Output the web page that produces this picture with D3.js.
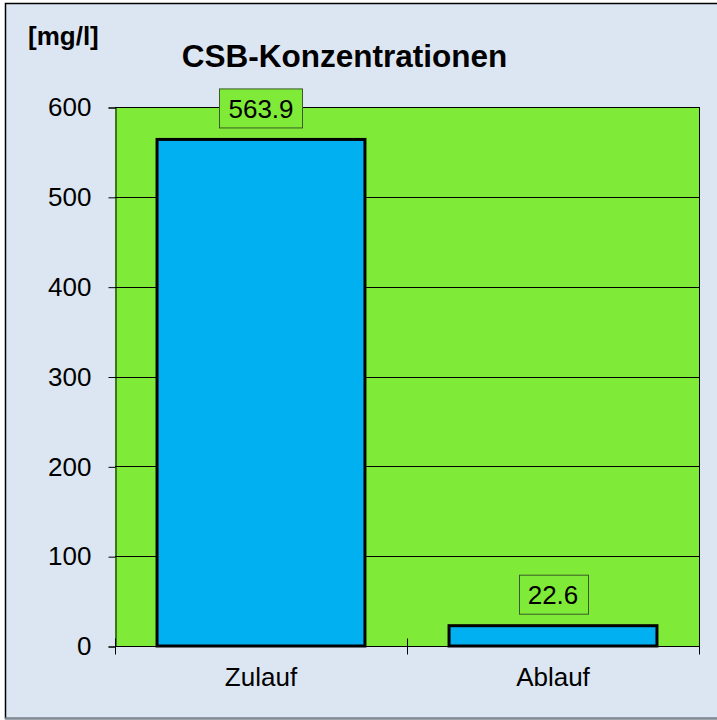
<!DOCTYPE html>
<html>
<head>
<meta charset="utf-8">
<script src="https://cdn.jsdelivr.net/npm/d3@7"></script>
<style>
  body { margin: 0; background: #fff; }
  text { font-family: "Liberation Sans", Arial, sans-serif; fill: #000; }
</style>
</head>
<body>
<div id="chart"></div>
<script>
// chart data
const categories = ['Zulauf', 'Ablauf'];
const values = [563.9, 22.6];
const yTicks = [0, 100, 200, 300, 400, 500, 600];
const unitLabel = '[mg/l]';
const titleText = 'CSB-Konzentrationen';

const width = 717, height = 720;
const plot = { left: 115, right: 699, top: 107, bottom: 646 };

const svg = d3.select('#chart').append('svg')
    .attr('width', width).attr('height', height);

// chart area background + frame
svg.append('rect')
    .attr('x', 5.5).attr('y', 3.5)
    .attr('width', width + 10).attr('height', height - 5)
    .attr('fill', '#dce6f2')
    .attr('stroke', '#000').attr('stroke-width', 1.5);
svg.append('line')
    .attr('x1', 5).attr('x2', width).attr('y1', 718.5).attr('y2', 718.5)
    .attr('stroke', '#7f8a96').attr('stroke-width', 2);

let x = d3.scaleBand()
    .domain(categories)
    .range([plot.left, plot.right])
    .paddingInner(0.288)
    .paddingOuter(0.144);

let y = d3.scaleLinear()
    .domain([0, 600])
    .range([plot.bottom, plot.top]);

// plot area
svg.append('rect')
    .attr('x', plot.left).attr('y', plot.top)
    .attr('width', plot.right - plot.left).attr('height', plot.bottom - plot.top)
    .attr('fill', '#7fea38');

// gridlines
svg.selectAll('line.grid')
    .data(yTicks.filter(d => d > 0))
    .enter().append('line')
    .attr('class', 'grid')
    .attr('x1', plot.left).attr('x2', plot.right)
    .attr('y1', d => Math.round(y(d)) + 0.5).attr('y2', d => Math.round(y(d)) + 0.5)
    .attr('stroke', '#000').attr('stroke-width', 1);

// right edge of plot area
svg.append('line')
    .attr('x1', plot.right + 0.5).attr('x2', plot.right + 0.5)
    .attr('y1', plot.top).attr('y2', plot.bottom)
    .attr('stroke', '#000');

// y axis
const yAxis = svg.append('g')
    .attr('transform', `translate(${plot.left + 0.5},0.5)`)
    .call(d3.axisLeft(y).tickValues(yTicks).tickSize(7).tickPadding(17));
yAxis.select('.domain').attr('stroke', '#000');
yAxis.selectAll('.tick line').attr('stroke', '#000');
yAxis.selectAll('.tick text')
    .attr('font-size', 26)
    .attr('font-family', '"Liberation Sans", Arial, sans-serif')
    .attr('fill', '#000');

// bars
svg.selectAll('rect.bar')
    .data(values)
    .enter().append('rect')
    .attr('class', 'bar')
    .attr('x', (d, i) => x(categories[i]))
    .attr('y', d => y(d))
    .attr('width', x.bandwidth())
    .attr('height', d => y(0) - y(d))
    .attr('fill', '#00b0f0')
    .attr('stroke', '#000').attr('stroke-width', 3);

// x axis
const xAxis = svg.append('g')
    .attr('transform', `translate(0,${plot.bottom + 0.5})`);
xAxis.append('line')
    .attr('x1', plot.left).attr('x2', plot.right)
    .attr('stroke', '#000');
const xTickPos = [plot.left, (plot.left + plot.right) / 2, plot.right];
xAxis.selectAll('line.xt')
    .data(xTickPos)
    .enter().append('line')
    .attr('class', 'xt')
    .attr('x1', d => Math.round(d) + 0.5).attr('x2', d => Math.round(d) + 0.5)
    .attr('y1', -8).attr('y2', 8)
    .attr('stroke', '#000');
xAxis.selectAll('text')
    .data(categories)
    .enter().append('text')
    .attr('x', d => x(d) + x.bandwidth() / 2)
    .attr('y', 39)
    .attr('text-anchor', 'middle')
    .attr('font-size', 26)
    .text(d => d);

// value labels with boxes
const labels = svg.selectAll('g.vlabel')
    .data(values)
    .enter().append('g')
    .attr('class', 'vlabel')
    .attr('transform', (d, i) =>
        `translate(${x(categories[i]) + x.bandwidth() / 2},${y(d) - 31})`);
labels.append('text')
    .attr('text-anchor', 'middle')
    .attr('dy', '0.36em')
    .attr('font-size', 26)
    .text(d => d.toFixed(1));
labels.each(function () {
    const g = d3.select(this);
    const bb = g.select('text').node().getBBox();
    g.insert('rect', 'text')
        .attr('x', Math.round(bb.x - 9) + 0.5)
        .attr('y', -19.5)
        .attr('width', Math.round(bb.width + 18))
        .attr('height', 39)
        .attr('fill', '#7fea38')
        .attr('stroke', '#3c5a28').attr('stroke-width', 1);
});

// title + unit
svg.append('text')
    .attr('x', 344.5).attr('y', 67)
    .attr('text-anchor', 'middle')
    .attr('font-size', 31.5).attr('font-weight', 'bold')
    .text(titleText);
svg.append('text')
    .attr('x', 28).attr('y', 45)
    .attr('font-size', 26).attr('font-weight', 'bold')
    .text(unitLabel);
</script>
</body>
</html>
